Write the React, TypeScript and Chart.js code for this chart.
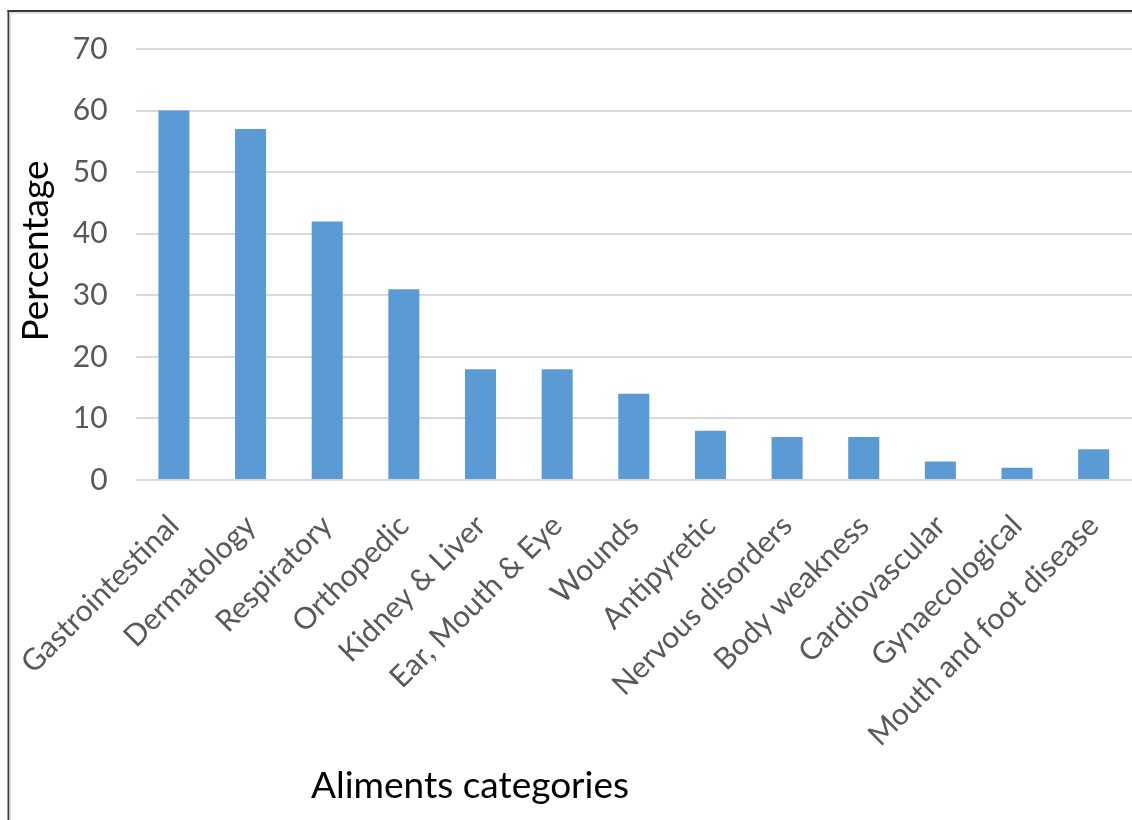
import { useEffect, useRef } from "react";
import { Chart, registerables } from "chart.js";

Chart.register(...registerables);

const categories = [
  "Gastrointestinal",
  "Dermatology",
  "Respiratory",
  "Orthopedic",
  "Kidney & Liver",
  "Ear, Mouth & Eye",
  "Wounds",
  "Antipyretic",
  "Nervous disorders",
  "Body weakness",
  "Cardiovascular",
  "Gynaecological",
  "Mouth and foot disease",
];
const percentages = [60, 57, 42, 31, 18, 18, 14, 8, 7, 7, 3, 2, 5];
const yMin = 0;
const yMax = 70;
const yStep = 10;
const xTitle = "Aliments categories";
const yTitle = "Percentage";

const FONT = "Lato, 'Open Sans', sans-serif";

const decor = {
  id: "decor",
  beforeDraw(chart: any) {
    const ctx = chart.ctx;
    ctx.save();
    ctx.fillStyle = "#ffffff";
    ctx.fillRect(0, 0, chart.width, chart.height);
    // frame
    ctx.fillStyle = "#3a3a3a";
    ctx.fillRect(7.5, 10, 2, chart.height - 10);
    ctx.fillRect(7.5, 10, chart.width, 2);
    ctx.fillStyle = "#e2e2e2";
    ctx.fillRect(9.5, 12, chart.width, 2);
    ctx.fillRect(9.5, 12, 1.5, chart.height);
    ctx.restore();
  },
  afterDraw(chart: any) {
    const ctx = chart.ctx;
    ctx.save();
    ctx.fillStyle = "#000000";
    ctx.textAlign = "center";
    ctx.textBaseline = "middle";
    ctx.font = `37px ${FONT}`;
    ctx.fillText(xTitle, 470, 786);
    ctx.translate(36, 251);
    ctx.rotate(-Math.PI / 2);
    ctx.fillText(yTitle, 0, 0);
    ctx.restore();
  },
};

export default function App() {
  const ref = useRef<HTMLCanvasElement | null>(null);
  useEffect(() => {
    if (!ref.current) return;
    const chart = new Chart(ref.current, {
      type: "bar",
      data: {
        labels: categories,
        datasets: [
          {
            data: percentages,
            backgroundColor: "#5b9bd5",
            categoryPercentage: 1,
            barPercentage: 0.405,
          },
        ],
      },
      plugins: [decor],
      options: {
        animation: false,
        responsive: true,
        maintainAspectRatio: false,
        layout: { padding: { top: 49, left: 0, right: 0, bottom: 0 } },
        plugins: { legend: { display: false }, tooltip: { enabled: false } },
        scales: {
          x: {
            grid: { display: false, drawTicks: false },
            border: { display: false },
            ticks: {
              color: "#595959",
              font: { family: FONT, size: 30 },
              minRotation: 45,
              maxRotation: 45,
              padding: 28,
              autoSkip: false,
            },
            afterFit: (s: any) => {
              s.height = 340;
              s.paddingLeft = 0;
              s.paddingRight = 0;
            },
          },
          y: {
            min: yMin,
            max: yMax,
            grid: { color: "#d9d9d9", lineWidth: 2, drawTicks: false },
            border: { display: false },
            ticks: {
              stepSize: yStep,
              color: "#595959",
              font: { family: FONT, size: 30 },
              padding: 28,
            },
            afterFit: (s: any) => {
              s.width = 135.6;
              s.paddingTop = 0;
              s.paddingBottom = 0;
            },
          },
        },
      },
    });
    return () => chart.destroy();
  }, []);
  return (
    <div
      style={{
        position: "fixed",
        left: 0,
        top: 0,
        width: 1132,
        height: 820,
        background: "#fff",
      }}
    >
      <canvas ref={ref} />
    </div>
  );
}
